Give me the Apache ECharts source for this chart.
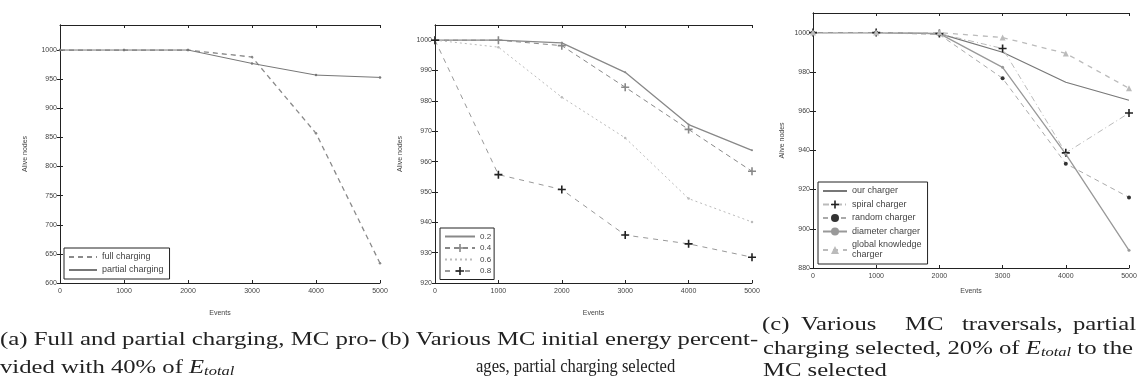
<!DOCTYPE html>
<html><head><meta charset="utf-8">
<script src="https://cdn.jsdelivr.net/npm/echarts@6/dist/echarts.min.js"></script>
<style>html,body{margin:0;padding:0;background:#fff}#c{width:1141px;height:392px}</style>
</head><body><div id="c"></div>
<script>
// ---- data ----
const xEvents = [0, 1000, 2000, 3000, 4000, 5000];
// panel (a)
const aNames = ['full charging', 'partial charging'];
const aFull = [1000, 1000, 1000, 988, 857, 634];
const aPartial = [1000, 1000, 1000, 977, 957, 953];
const aYTicks = [600, 650, 700, 750, 800, 850, 900, 950, 1000];
// panel (b)
const bNames = ['0.2', '0.4', '0.6', '0.8'];
const b02 = [1000, 1000, 999.1, 989.4, 972.2, 963.7];
const b04 = [1000, 1000, 998.2, 984.5, 970.6, 956.8];
const b06 = [1000, 997.7, 981.2, 967.8, 947.8, 940.1];
const b08 = [1000, 955.7, 950.8, 935.8, 932.9, 928.5];
const bYTicks = [920, 930, 940, 950, 960, 970, 980, 990, 1000];
// panel (c)
const cNames = ['our charger', 'spiral charger', 'random charger', 'diameter charger', 'global knowledge\ncharger'];
const cOur = [1000, 1000, 999.5, 990, 974.7, 965.5];
const cSpiral = [1000, 1000, 999.5, 991.9, 938.7, 959];
const cRandom = [1000, 1000, 999, 976.7, 933.2, 916];
const cDiameter = [1000, 1000, 999.5, 982.3, 938, 889];
const cGlobal = [1000, 1000, 1000, 997.5, 989.4, 971.6];
const cYTicks = [880, 900, 920, 940, 960, 980, 1000];

// ---- helpers ----
const pairs = ys => xEvents.map((x, i) => [x, ys[i]]);
const PLUS = 'path://M4,0 L6,0 L6,4 L10,4 L10,6 L6,6 L6,10 L4,10 L4,6 L0,6 L0,4 L4,4 Z';
const tickFont = {fontSize: 7, color: '#444', fontFamily: 'Liberation Sans', formatter: v => String(v)};
const grids = [
  {left: 60, top: 25, width: 320, height: 258},
  {left: 435, top: 25, width: 317, height: 258},
  {left: 813, top: 13, width: 316, height: 255}
];
const yRanges = [[600, 1043, aYTicks], [920, 1005, bYTicks], [880, 1010, cYTicks]];
const xAxis = [], yAxis = [];
grids.forEach((g, i) => {
  const lineS = {show: true, lineStyle: {color: '#222', width: 1}};
  const tickS = {inside: true, length: 3, lineStyle: {color: '#222'}};
  xAxis.push({type: 'value', gridIndex: i, min: 0, max: 5000, interval: 1000, position: 'bottom',
    axisLine: lineS, axisTick: tickS,
    axisLabel: Object.assign({margin: 5}, tickFont), splitLine: {show: false},
    name: 'Events', nameLocation: 'middle', nameGap: i === 2 ? 20 : 27,
    nameTextStyle: {fontSize: 7, color: '#444', fontFamily: 'Liberation Sans'}});
  xAxis.push({type: 'value', gridIndex: i, min: 0, max: 5000, interval: 1000, position: 'top',
    axisLine: lineS, axisTick: tickS, axisLabel: {show: false}, splitLine: {show: false}});
  const [mn, mx, tk] = yRanges[i];
  yAxis.push({type: 'value', gridIndex: i, min: mn, max: mx, position: 'left',
    axisLine: lineS, axisTick: Object.assign({customValues: tk}, tickS),
    axisLabel: Object.assign({margin: 3, customValues: tk}, tickFont), splitLine: {show: false},
    name: 'Alive nodes', nameLocation: 'middle', nameGap: i === 2 ? 27 : 31, nameRotate: 90,
    nameTextStyle: {fontSize: 7, color: '#444', fontFamily: 'Liberation Sans'}});
  yAxis.push({type: 'value', gridIndex: i, min: mn, max: mx, position: 'right',
    axisLine: lineS, axisTick: Object.assign({customValues: tk}, tickS),
    axisLabel: {show: false}, splitLine: {show: false}});
});

function ln(name, grid, ys, color, type, symbol, symSize, width, symColor) {
  return {type: 'line', name, xAxisIndex: grid * 2, yAxisIndex: grid * 2, data: pairs(ys),
    lineStyle: {color, type, width: width || 1}, itemStyle: {color: symColor || color},
    symbol: symbol || 'none', symbolSize: symSize || 3, showSymbol: !!symbol,
    emphasis: {disabled: true}, animation: false};
}
const series = [
  ln(aNames[0], 0, aFull, '#8a8a8a', [5, 4], 'circle', 2.5, 1.3),
  ln(aNames[1], 0, aPartial, '#777', 'solid', 'circle', 2.5),
  ln(bNames[0], 1, b02, '#888', 'solid', 'circle', 2, 1.3),
  ln(bNames[1], 1, b04, '#888', [5, 4], PLUS, 8),
  ln(bNames[2], 1, b06, '#bbb', [2, 3], 'circle', 2.5),
  ln(bNames[3], 1, b08, '#999', [5, 5], PLUS, 8, 1, '#222'),
  ln(cNames[0], 2, cOur, '#777', 'solid', null, 0, 1.2),
  ln(cNames[1], 2, cSpiral, '#bbb', [6, 3, 1, 3], PLUS, 8, 1, '#222'),
  ln(cNames[2], 2, cRandom, '#aaa', [5, 4], 'circle', 4, 1, '#333'),
  ln(cNames[3], 2, cDiameter, '#999', 'solid', 'circle', 3, 1.3),
  ln(cNames[4], 2, cGlobal, '#bbb', [5, 5], 'triangle', 6, 1.3)
];

const legBase = {orient: 'vertical', backgroundColor: '#fff', borderColor: '#222', borderWidth: 1,
  itemWidth: 30, itemHeight: 10, itemGap: 3,
  textStyle: {fontSize: 8, color: '#444', fontFamily: 'Liberation Sans', lineHeight: 9},
  selectedMode: false};
const noSym = n => ({name: n, itemStyle: {opacity: 0}});
const legend = [
  Object.assign({}, legBase, {data: [noSym(aNames[0]), noSym(aNames[1])], left: 64, top: 248,
    padding: [4, 6, 4, 4], itemWidth: 28,
    textStyle: {fontSize: 9, color: '#444', fontFamily: 'Liberation Sans', lineHeight: 10}}),
  Object.assign({}, legBase, {data: [noSym(bNames[0]), bNames[1], noSym(bNames[2]), bNames[3]],
    left: 440, top: 228, padding: [4, 3, 4, 4], itemGap: 2.5, itemWidth: 30}),
  Object.assign({}, legBase, {data: [noSym(cNames[0]), cNames[1], cNames[2], cNames[3], cNames[4]],
    left: 818, top: 182, padding: [4, 6, 4, 4], itemGap: 3.5, itemWidth: 24,
    textStyle: {fontSize: 9, color: '#444', fontFamily: 'Liberation Sans', lineHeight: 10}})
];

const serif = '"Liberation Serif", "DejaVu Serif", serif';
const capRich = {
  n: {fontSize: 18, fontFamily: serif, color: '#222'},
  e: {fontSize: 18, fontFamily: serif, fontStyle: 'italic', color: '#222'},
  s: {fontSize: 12, fontFamily: serif, fontStyle: 'italic', color: '#222', padding: [8, 0, 0, 0]}
};
function cap(x, y, text, sx) {
  return {type: 'text', x, y, scaleX: sx, scaleY: 1, originX: 0, originY: 0,
    style: {text, rich: capRich, fill: '#222', font: '18px ' + serif, x: 0, y: 0, verticalAlign: 'top'}};
}
const SX = 1.37;
const graphic = [
  cap(0, 331, '{n|(a) Full and partial charging, MC pro-}', 1.38),
  cap(0, 358, '{n|vided with 40% of }{e|E}{s|total}', SX),
  cap(381, 331, '{n|(b) Various MC initial energy percent-}', 1.366),
  cap(476, 358, '{n|ages, partial charging selected}', 0.92),
  cap(762, 316, '{n|(c)}', SX),
  cap(801, 316, '{n|Various}', SX),
  cap(905, 316, '{n|MC}', SX),
  cap(962, 316, '{n|traversals,}', SX),
  cap(1073, 316, '{n|partial}', SX),
  cap(763, 339, '{n|charging selected, 20% of }{e|E}{s|total}{n| to the}', 1.375),
  cap(763, 362, '{n|MC selected}', SX)
];

const chart = echarts.init(document.getElementById('c'), null, {renderer: 'canvas'});
chart.setOption({animation: false, backgroundColor: '#fff', grid: grids, xAxis, yAxis, series, legend, graphic});
</script></body></html>
